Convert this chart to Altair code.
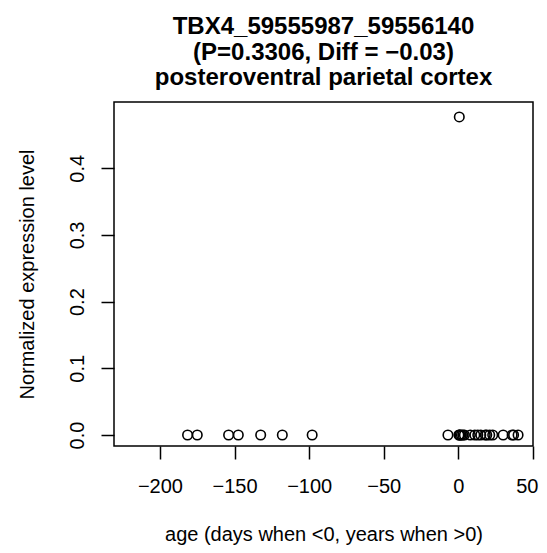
import altair as alt
import pandas as pd

ages = [-181.5, -175, -154, -147.5, -132.5, -118, -98, -7,
        0.33, 0.6, 0.83, 1, 2, 3, 4, 8, 11, 13, 15, 18, 19, 21, 23, 30, 36, 37, 40]
levels = [0, 0, 0, 0, 0, 0, 0, 0,
          0, 0.477, 0, 0, 0, 0, 0, 0, 0, 0, 0, 0, 0, 0, 0, 0, 0, 0, 0]
x_ticks = [-200, -150, -100, -50, 0, 50]
y_ticks = [0.0, 0.1, 0.2, 0.3, 0.4]

df = pd.DataFrame({"age": ages, "level": levels})

FONT = "Liberation Sans"

chart = alt.Chart(df).mark_point(
    shape="circle", filled=False, color="black", size=90, strokeWidth=1.6, opacity=1
).encode(
    x=alt.X("age:Q", scale=alt.Scale(domain=[-230.8, 50], nice=False, zero=False),
            axis=alt.Axis(values=x_ticks, title="age (days when <0, years when >0)",
                          grid=False, domain=False, tickSize=13, tickColor="black",
                          tickWidth=1.5, labelFontSize=20, labelFont=FONT, labelColor="black",
                          labelPadding=17, labelFlush=5, labelFlushOffset=5,
                          labelOverlap=False,
                          titleFont=FONT, titleFontSize=20, titleFontWeight="normal",
                          titleColor="black", titleBaseline="alphabetic", titleY=94)),
    y=alt.Y("level:Q", scale=alt.Scale(domain=[-0.0165, 0.4994], nice=False, zero=False),
            axis=alt.Axis(values=y_ticks, format=".1f", title="Normalized expression level",
                          grid=False, domain=False, tickSize=13, tickColor="black",
                          tickWidth=1.5, labelFontSize=20, labelFont=FONT, labelColor="black",
                          labelAngle=270, labelAlign="center", labelBaseline="alphabetic",
                          labelPadding=18, labelFlush=False, labelOverlap=False,
                          titleFont=FONT, titleFontSize=20, titleFontWeight="normal",
                          titleColor="black", titleBaseline="alphabetic", titleX=-81,
                          titleY=172, titleAlign="center")),
).properties(
    width=419,
    height=344,
    title=alt.TitleParams(
        text=["TBX4_59555987_59556140", "(P=0.3306, Diff = \u22120.03)",
              "posteroventral parietal cortex"],
        font=FONT, fontSize=24, fontWeight="bold", color="black",
        anchor="middle", frame="group", lineHeight=25.5, offset=12,
    ),
    autosize=alt.AutoSizeParams(type="none"),
    padding={"left": 106, "top": 94, "right": 6, "bottom": 103},
).configure_view(
    stroke="black", strokeWidth=1.5
)

chart.save("out.html", embed_options={"renderer": "svg", "actions": False})
